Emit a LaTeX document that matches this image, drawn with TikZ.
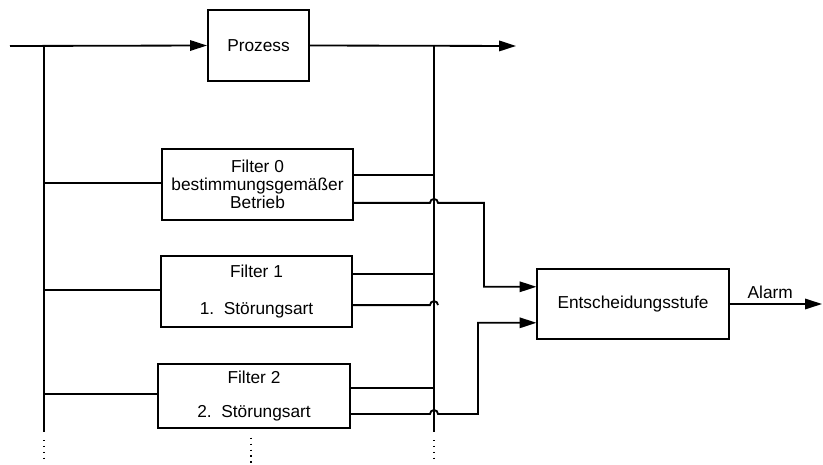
\documentclass[tikz,border=0pt]{standalone}
\usepackage{fontspec}
\setmainfont{Liberation Sans}
\usepackage{tikz}
\usetikzlibrary{arrows.meta, positioning, calc}

\begin{document}
\begin{tikzpicture}[x=0.025cm, y=-0.025cm,
    font=\fontsize{12.3}{12.8}\selectfont, line width=1.3pt,
    block/.style={draw, line width=1.3pt, align=center, inner sep=0pt,
                  minimum width=4.78cm, minimum height=1.78cm},
    arr/.style={-{Triangle[length=0.42cm, width=0.26cm]}},
    dots/.style={line width=1.2pt, dash pattern=on 0.9pt off 3.3pt}]
  \useasboundingbox (0,0) rectangle (823,465);
  % Prozess oben
  \node[block, minimum width=2.53cm] (prozess) at (258.5,45.5) {Prozess};
  \coordinate (ein) at (10,46);
  \coordinate (aus) at (516,46);
  \coordinate (lt) at (44,46);
  \coordinate (rt) at (434,46);
  \draw[arr] (ein) -- (prozess.west);
  \draw[arr] (prozess.east) -- (aus);
  % Filterbank
  \node[block] (filter0) at (257.5,184.5) {Filter 0\\bestimmungsgemäßer\\Betrieb};
  \node[block] (filter1) at (256.5,291.5) {Filter 1\\[13pt]1.\ \ Störungsart};
  \node[block, minimum height=1.6cm] (filter2) at (254,396) {Filter 2\\[12pt]2.\ \ Störungsart};
  % Entscheidung
  \node[block, minimum height=1.75cm] (entsch) at (633,304) {Entscheidungsstufe};
  \coordinate (alarm) at (822,304);
  \draw[arr] (entsch.east) -- node[above, pos=0.44] {Alarm} (alarm);
  % Sammelleitungen links und rechts
  \coordinate (lbot) at (44,432);
  \coordinate (rbot) at (434,432);
  \draw (lt) -- (lbot);
  \draw (rt) -- (rbot);
  \draw[dots] ([yshift=-0.2cm]lbot) -- ++(0,22);
  \draw[dots] ([yshift=-0.2cm]rbot) -- ++(0,22);
  \draw[dots] ([xshift=-0.08cm, yshift=-0.22cm]filter2.south) -- ++(0,25);
  % Eingaenge der Filter
  \draw ([yshift=0.04cm]filter0.west -| lt) -- ([yshift=0.04cm]filter0.west);
  \draw ([yshift=0.04cm]filter1.west -| lt) -- ([yshift=0.04cm]filter1.west);
  \draw ([yshift=0.06cm]filter2.west -| lt) -- ([yshift=0.06cm]filter2.west);
  % Ausgaenge zur Messgroesse
  \draw ([yshift=0.24cm]filter0.east) -- ([yshift=0.24cm]filter0.east -| rt);
  \draw ([yshift=0.44cm]filter1.east) -- ([yshift=0.44cm]filter1.east -| rt);
  \draw ([yshift=0.2cm]filter2.east) -- ([yshift=0.2cm]filter2.east -| rt);
  % Residuen mit Bruecke ueber die Leitung
  \coordinate (e1) at ([yshift=0.43cm]entsch.west);
  \coordinate (e2) at ([yshift=-0.47cm]entsch.west);
  \draw[arr] ([yshift=-0.46cm]filter0.east)
    -- ([xshift=-0.1cm, yshift=-0.46cm]filter0.east -| rt)
    arc[start angle=180, end angle=0, radius=0.1cm]
    -- ++(46,0) |- (e1);
  \draw ([yshift=-0.34cm]filter1.east)
    -- ([xshift=-0.1cm, yshift=-0.34cm]filter1.east -| rt)
    arc[start angle=180, end angle=0, radius=0.1cm];
  \draw[arr] ([yshift=-0.45cm]filter2.east)
    -- ([xshift=-0.1cm, yshift=-0.45cm]filter2.east -| rt)
    arc[start angle=180, end angle=0, radius=0.1cm]
    -- ++(40,0) |- (e2);
\end{tikzpicture}
\end{document}
